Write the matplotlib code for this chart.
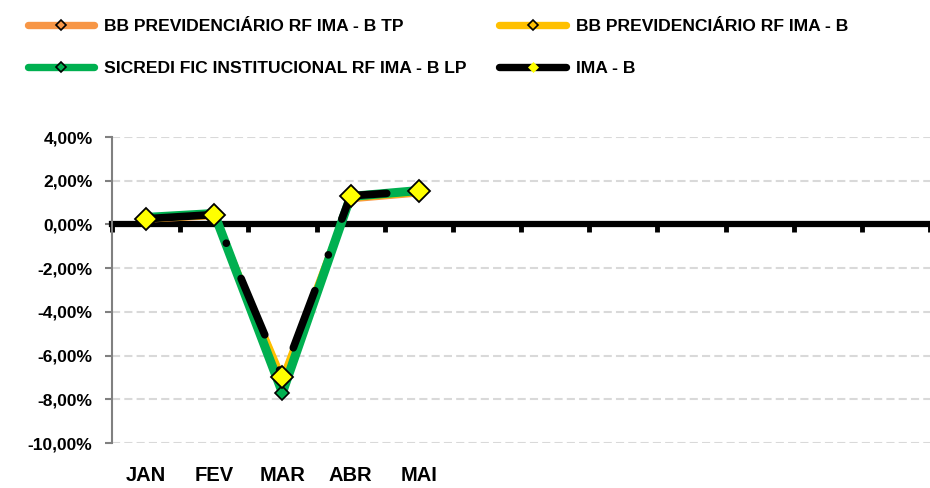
import matplotlib.pyplot as plt
from matplotlib.lines import Line2D
from matplotlib.ticker import FuncFormatter
from matplotlib.transforms import blended_transform_factory

plt.rcParams['font.family'] = ['Liberation Sans', 'DejaVu Sans']
plt.rcParams['font.weight'] = 'bold'

# Rentabilidade mensal (%) - 2020
meses = ["JAN", "FEV", "MAR", "ABR", "MAI"]
n_meses = 12
bb_tp = [0.22, 0.38, -7.10, 1.15, 1.42]
bb_imab = [0.24, 0.40, -7.02, 1.20, 1.45]
sicredi_lp = [0.32, 0.50, -7.70, 1.28, 1.55]
ima_b = [0.26, 0.45, -6.97, 1.31, 1.52]

series = [
    ("BB PREVIDENCIÁRIO RF IMA - B TP", bb_tp, "#f79646"),
    ("BB PREVIDENCIÁRIO RF IMA - B", bb_imab, "#ffc000"),
    ("SICREDI FIC INSTITUCIONAL RF IMA - B LP", sicredi_lp, "#00b050"),
]

fig = plt.figure(figsize=(9.3, 4.88), dpi=100)
ax = fig.add_axes([112 / 930, 1 - 443 / 488, 1 - 112 / 930, (443 - 137) / 488])

x = list(range(len(meses)))
for nome, vals, cor in series:
    lw = 6.5 if nome.startswith("SICREDI") else 4.5
    ax.plot(x, vals, color=cor, lw=lw, marker="D", ms=7,
            mfc=cor, mec="black", mew=1.2, zorder=3)
ax.plot(x, ima_b, color="black", lw=5.5, marker="D", ms=11.2,
        mfc="#ffff00", mec="black", mew=1.3, dash_capstyle="round",
        linestyle=(0, (8, 5, 0.01, 5)), zorder=4)

ax.set_xlim(-0.5, n_meses - 0.5)
ax.set_ylim(-10, 4)
ax.set_yticks(range(-10, 5, 2))
ax.yaxis.set_major_formatter(FuncFormatter(lambda v, p: f"{v:.2f}%".replace(".", ",")))
ax.tick_params(axis="y", colors="#808080", length=5, width=1.5, pad=9,
               labelsize=12.5, labelcolor="black")
ax.grid(axis="y", color="#d9d9d9", linestyle=(0, (3.9, 2)), lw=1.5)
ax.set_axisbelow(True)

# eixo das categorias cruzando o zero
ax.spines["bottom"].set_position(("data", 0))
ax.spines["bottom"].set_linewidth(4.5)
ax.spines["bottom"].set_zorder(2)
ax.spines["left"].set_color("#808080")
ax.spines["left"].set_linewidth(1.5)
ax.spines["top"].set_visible(False)
ax.spines["right"].set_visible(False)
ax.set_xticks([i - 0.5 for i in range(n_meses + 1)])
ax.set_xticklabels([])
ax.tick_params(axis="x", direction="out", length=6, width=3.5, color="black")

trans = blended_transform_factory(ax.transData, ax.transAxes)
for i, m in enumerate(meses):
    ax.text(i, -0.105, m, transform=trans, ha="center", va="center",
            fontsize=14.5, fontweight="bold")

# legenda em duas colunas, preenchida por linha
handles = []
for nome, vals, cor in series:
    handles.append(Line2D([], [], color=cor, lw=5.3, solid_capstyle="round",
                          marker="D", ms=5, mfc=cor, mec="black", mew=1.2, label=nome))
handles.append(Line2D([], [], color="black", lw=5.3, solid_capstyle="round",
                      marker="D", ms=5, mfc="#ffff00", mec="#ffff00", mew=0.5, label="IMA - B"))
ordem = [handles[0], handles[2], handles[1], handles[3]]
fig.legend(handles=ordem, loc="upper left", bbox_to_anchor=(27.5 / 930, 1 - 18.5 / 488),
           ncol=2, frameon=False, fontsize=12.6, handlelength=3.8, handletextpad=0.55,
           columnspacing=1.9, labelspacing=1.55, borderpad=0, borderaxespad=0)

fig.savefig("out.png", dpi=100)
